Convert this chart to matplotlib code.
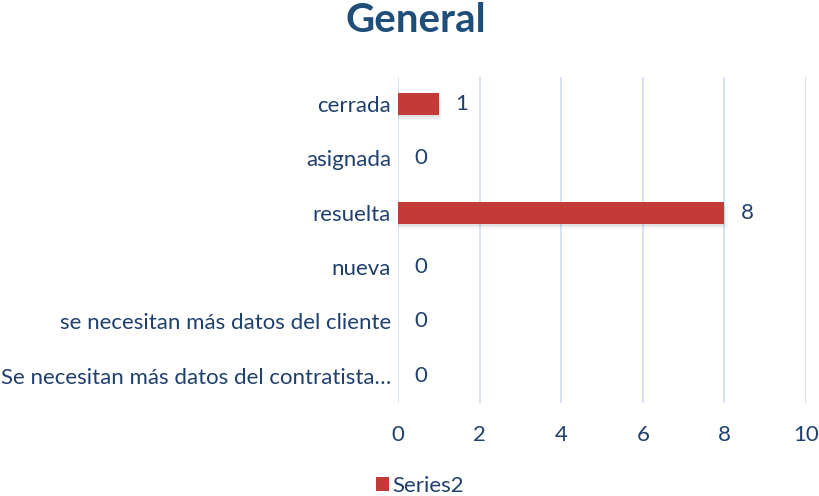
import numpy as np
import matplotlib.pyplot as plt

categories = ['Se necesitan más datos del contratista…',
              'se necesitan más datos del cliente',
              'nueva',
              'resuelta',
              'asignada',
              'cerrada']
values = [0, 0, 0, 8, 0, 1]
series_name = 'Series2'

text_col = '#1F3F6E'
bar_col = '#C43A37'
grid_col = '#D0DEF2'

plt.rcParams['font.family'] = ['Lato', 'DejaVu Sans']
fs = 16

fig = plt.figure(figsize=(8.2, 4.96), dpi=100)
ax = fig.add_axes([0.4854, 0.1875, 0.4976, 0.6573])

y = np.arange(len(categories))
vals = np.array(values, dtype=float)
# soft shadow under the bars
for k, a in enumerate([0.05, 0.04, 0.03]):
    ax.barh(y - 0.04 - 0.025 * k, np.where(vals > 0, vals + 0.04 * k, 0), height=0.4,
            color='#000000', alpha=a, linewidth=0, zorder=2)
bars = ax.barh(y, values, height=0.4, color=bar_col, linewidth=0,
               label=series_name, zorder=3)

for yi, v in zip(y, values):
    ax.annotate(str(v), (v, yi), xytext=(12, 0), textcoords='offset points',
                va='center', ha='left', fontsize=fs, color=text_col)

ax.set_xlim(0, 10)
ax.set_ylim(-0.5, len(categories) - 0.5)
ax.set_xticks(range(0, 11, 2))
ax.set_yticks(y)
ax.set_yticklabels(categories)
ax.tick_params(axis='both', length=0, labelsize=fs, colors=text_col)
ax.tick_params(axis='x', pad=16)
ax.tick_params(axis='y', pad=5)
ax.grid(axis='x', color=grid_col, linewidth=1.2, zorder=0)
for s in ax.spines.values():
    s.set_visible(False)

fig.suptitle('General', x=0.507, y=0.995, fontsize=29, fontweight='bold', color='#1F4E79')

fig.legend(handles=[bars], labels=[series_name], loc='lower center', bbox_to_anchor=(0.512, -0.04),
           frameon=False, fontsize=fs, labelcolor=text_col, handlelength=0.6, handleheight=0.6,
           handletextpad=0.15)

plt.savefig('out.png', dpi=100)
